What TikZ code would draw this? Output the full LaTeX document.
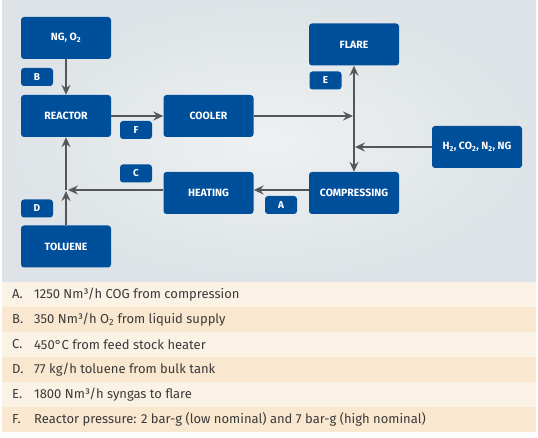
\documentclass[tikz,border=0pt]{standalone}
\usepackage{fontspec}
\setmainfont{Fira Sans}
\usetikzlibrary{arrows.meta}

\definecolor{boxblue}{HTML}{004F9B}
\definecolor{linegray}{HTML}{555658}
\definecolor{rowlight}{HTML}{FBF2E6}
\definecolor{rowdark}{HTML}{F9E7D0}
\definecolor{bggray}{HTML}{DDE3E6}
\definecolor{bglight}{HTML}{EEF1F2}
\definecolor{textgray}{HTML}{3A3A3A}

\begin{document}
\begin{tikzpicture}[x=1pt,y=-1pt,
	unit/.style={fill=boxblue, rounded corners=3pt, minimum width=90pt, minimum height=42pt,
		inner sep=0pt, text=white, font=\bfseries\fontsize{10.5}{12}\selectfont},
	tag/.style={fill=boxblue, rounded corners=3pt, minimum width=32pt, minimum height=18pt,
		inner sep=0pt, text=white, font=\bfseries\fontsize{10}{11}\selectfont},
	flow/.style={draw=linegray, line width=1.8pt,
		>={Stealth[length=10pt,width=9pt,inset=3.5pt]}},
	key/.style={anchor=west, inner sep=0pt, text=textgray, font=\fontsize{13}{15}\selectfont}]
	\useasboundingbox (0,0) rectangle (538,438);
	% background and table
	\shade[inner color=bglight, outer color=bggray] (2,1) rectangle (536,282);
	\foreach \i/\c in {0/rowlight,1/rowdark,2/rowlight,3/rowdark,4/rowlight,5/rowdark}
		\fill[\c] (2,282+25*\i) rectangle (536,307+25*\i);

	% units
	\node[unit] (ng) at (66,38) {NG, O\textsubscript{2}};
	\node[unit] (reactor) at (66,116) {REACTOR};
	\node[unit] (cooler) at (208.5,116) {COOLER};
	\node[unit] (flare) at (354,44.5) {FLARE};
	\node[unit] (h2) at (477,147) {H\textsubscript{2}, CO\textsubscript{2}, N\textsubscript{2}, NG};
	\node[unit] (compressing) at (354,193) {COMPRESSING};
	\node[unit] (heating) at (208.5,193) {HEATING};
	\node[unit] (toluene) at (66,246.5) {TOLUENE};

	% letters
	\node[tag] (tb) at (37,77) {B};
	\node[tag] (tf) at (136,130) {F};
	\node[tag] (te) at (325.5,80.5) {E};
	\node[tag] (tc) at (136,173.5) {C};
	\node[tag] (ta) at (281,205) {A};
	\node[tag] (td) at (37,208.5) {D};

	% junctions
	\coordinate (j1) at (354,116);
	\coordinate (j2) at (354,147);
	\coordinate (j3) at (66,190);

	\draw[flow,->] (ng) -- (reactor);
	\draw[flow,->] (reactor) -- (cooler);
	\draw[flow,->,shorten >=1pt] (cooler.east |- j1) -- (j1);
	\draw[flow,<->] (compressing) -- (flare);
	\draw[flow,->,shorten >=1pt] (h2.west |- j2) -- (j2);
	\draw[flow,->] (compressing.west |- j3) -- (heating.east |- j3);
	\draw[flow,->,shorten >=2pt] (heating.west |- j3) -- (j3);
	\draw[flow,->,shorten >=1pt] (toluene) -- (j3);
	\draw[flow,->] (j3) -- (reactor);

	% key
	\foreach \l/\t [count=\n from 0] in {
		A/{1250 Nm³/h COG from compression},
		B/{350 Nm³/h O\textsubscript{2} from liquid supply},
		C/{450°C from feed stock heater},
		D/{77 kg/h toluene from bulk tank},
		E/{1800 Nm³/h syngas to flare},
		F/{Reactor pressure: 2 bar-g (low nominal) and 7 bar-g (high nominal)}} {
		\node[key] (let\l) at (12,294.5+25*\n) {\l.};
		\node[key] (row\l) at (34,294.5+25*\n) {\t};
	}
\end{tikzpicture}
\end{document}
